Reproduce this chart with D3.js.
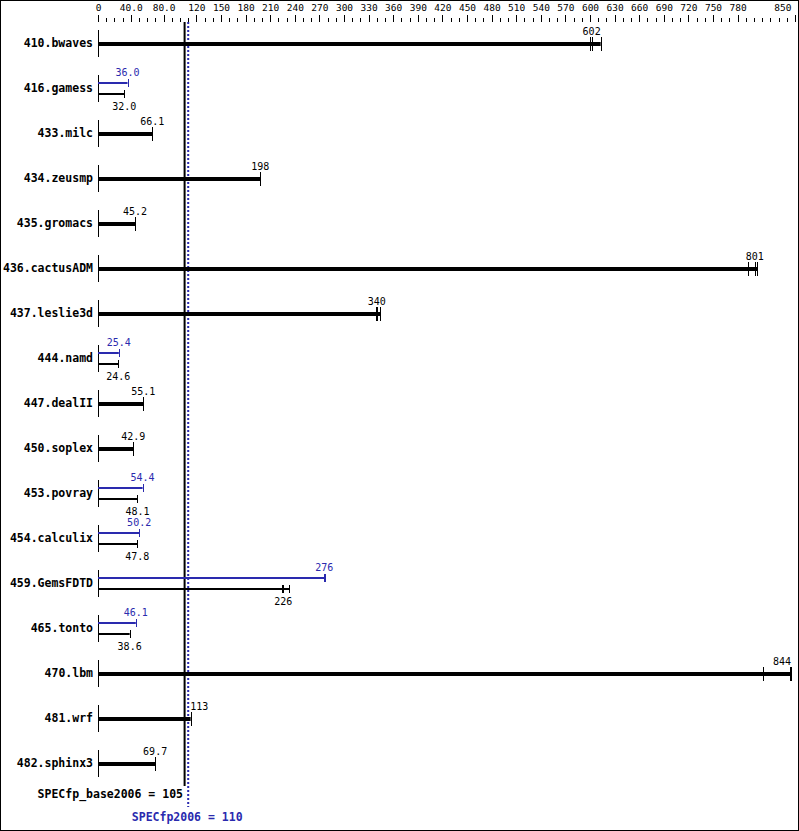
<!DOCTYPE html>
<html><head><meta charset="utf-8">
<script src="https://cdn.jsdelivr.net/npm/d3@7/dist/d3.min.js"></script>
<style>body{margin:0;background:#fff} svg{display:block}</style>
</head><body><svg id="c" width="799" height="831"></svg>
<script>
const benchmarks = ["410.bwaves","416.gamess","433.milc","434.zeusmp","435.gromacs","436.cactusADM","437.leslie3d","444.namd","447.dealII","450.soplex","453.povray","454.calculix","459.GemsFDTD","465.tonto","470.lbm","481.wrf","482.sphinx3"];
const baseValues = [602, 32.0, 66.1, 198, 45.2, 801, 340, 24.6, 55.1, 42.9, 48.1, 47.8, 226, 38.6, 844, 113, 69.7];
const peakValues = [null, 36.0, null, null, null, null, null, 25.4, null, null, 54.4, 50.2, 276, 46.1, null, null, null];
const baseRuns = [[600,602,613], [32.0], [66.1], [198], [45.2], [793,801,804], [339,340,344], [24.6], [55.1], [42.9], [48.1], [47.8], [224,226,233], [38.6], [811,844,845], [113], [69.7]];
const peakRuns = [null, [36.0], null, null, null, null, null, [25.4], null, null, [54.4], [50.2], [275,276,277], [46.1], null, null, null];
const tickValues = [0, 40, 80, 120, 150, 180, 210, 240, 270, 300, 330, 360, 390, 420, 450, 480, 510, 540, 570, 600, 630, 660, 690, 720, 750, 780, 850];
const minorTickValues = d3.range(0, 851, 10);
const baseScore = 105;
const peakScore = 110;
const baseScoreLabel = "SPECfp_base2006 = 105";
const peakScoreLabel = "SPECfp2006 = 110";

const BLUE = "#2a2aae";
const MONO = "'DejaVu Sans Mono', 'Liberation Mono', monospace";
const svg = d3.select("#c");
svg.append("rect").attr("x",0.5).attr("y",0.5).attr("width",798).attr("height",830)
  .attr("fill","#fff").attr("stroke","#000").attr("stroke-width",1);

const x = d3.scaleLinear().domain([0, 850]).range([98, 795]);
const y = d3.scalePoint().domain(benchmarks).range([43, 763]);
const fmt = d3.format(".3r");
const fmtTick = v => v === 0 ? "0" : fmt(v);

// axis
const axisY = 22;
const minor = svg.append("g").attr("transform", `translate(0,${axisY})`)
  .call(d3.axisTop(x).tickValues(minorTickValues).tickSize(4).tickFormat(""));
minor.select(".domain").remove();
const major = svg.append("g").attr("transform", `translate(0,${axisY})`)
  .call(d3.axisTop(x).tickValues(tickValues).tickSize(7).tickPadding(4).tickFormat(fmtTick));
major.select(".domain").remove();
svg.selectAll(".tick line").attr("stroke","#000").attr("shape-rendering","crispEdges");
major.selectAll(".tick text").attr("font-family", MONO).attr("font-size", "9.5px").attr("fill","#000")
  .each(function(d){ if (d === 850) d3.select(this).attr("text-anchor","end").attr("x", -4); });

// score lines
svg.append("line").attr("x1", x(baseScore)+0.5).attr("x2", x(baseScore)+0.5)
  .attr("y1", axisY).attr("y2", 786).attr("stroke","#000").attr("stroke-width",2);
svg.append("line").attr("x1", x(peakScore)).attr("x2", x(peakScore))
  .attr("y1", axisY).attr("y2", 807).attr("stroke",BLUE).attr("stroke-width",2)
  .attr("stroke-dasharray","2,2");

function placeLabel(cx, text, fs) {
  const w = text.length * fs * 0.602;
  let c = Math.min(cx, 791 - w/2);
  const lo = x(baseScore) - 1, hi = x(peakScore) + 1;
  if (c - w/2 < hi && c + w/2 > lo) c = hi + 1 + w/2;
  return c;
}

const rows = svg.append("g");
benchmarks.forEach((b, i) => {
  const yc = y(b);
  const g = rows.append("g");
  g.append("text").attr("x", 93).attr("y", yc + 4).attr("text-anchor","end")
    .attr("font-family", MONO).attr("font-weight","bold").attr("font-size","11.5px").text(b);
  g.append("line").attr("x1", x(0)+0.5).attr("x2", x(0)+0.5).attr("y1", yc-13).attr("y2", yc+14)
    .attr("stroke","#000").attr("stroke-width",1);
  const drawBar = (val, runs, yy, color, width, half, labelY) => {
    const end = d3.max(runs.concat([val]));
    g.append("line").attr("x1", x(0)).attr("x2", x(end)).attr("y1", yy).attr("y2", yy)
      .attr("stroke", color).attr("stroke-width", width);
    runs.concat([end]).forEach(r => {
      g.append("line").attr("x1", Math.round(x(r))+0.5).attr("x2", Math.round(x(r))+0.5)
        .attr("y1", yy-half).attr("y2", yy+half).attr("stroke", color).attr("stroke-width", 1);
    });
    const t = fmt(val);
    g.append("text").attr("x", placeLabel(x(val), t, 10)).attr("y", labelY).attr("text-anchor","middle")
      .attr("font-family", MONO).attr("font-size","10px").attr("fill", color).text(t);
  };
  if (peakValues[i] == null) {
    drawBar(baseValues[i], baseRuns[i], yc+1, "#000", 4, 7, yc-8);
  } else {
    drawBar(peakValues[i], peakRuns[i], yc-5, BLUE, 2, 4, yc-12);
    drawBar(baseValues[i], baseRuns[i], yc+6, "#000", 2, 4, yc+22);
  }
});

svg.append("text").attr("x", 183).attr("y", 798).attr("text-anchor","end")
  .attr("font-family", MONO).attr("font-weight","bold").attr("font-size","11.5px").attr("fill","#000")
  .text(baseScoreLabel);
svg.append("text").attr("x", x(peakScore)-1).attr("y", 821).attr("text-anchor","middle")
  .attr("font-family", MONO).attr("font-weight","bold").attr("font-size","11.5px").attr("fill",BLUE)
  .text(peakScoreLabel);
</script></body></html>
